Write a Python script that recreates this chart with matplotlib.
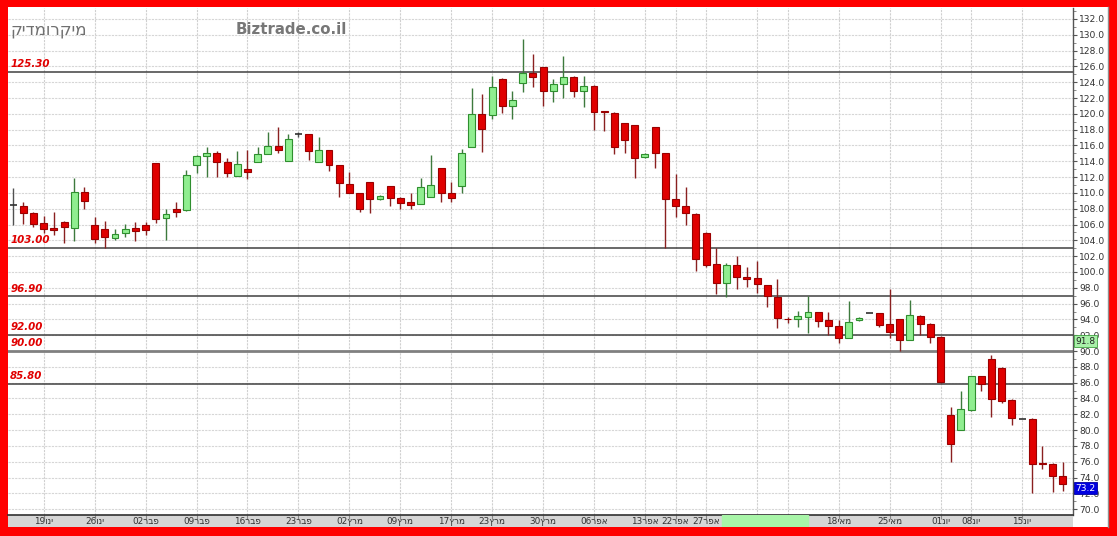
import matplotlib
matplotlib.use("Agg")
import matplotlib.pyplot as plt
from matplotlib.patches import Rectangle

W, H = 1117, 536

# candles (trading days, oldest first)
opens = [108.5, 108.3, 107.5, 106.2, 105.6, 106.3, 105.6, 110.1, 105.9, 105.4,
         104.3, 104.9, 105.6, 105.9, 113.8, 106.8, 108.0, 107.8, 113.5, 114.7,
         115.0, 113.9, 112.1, 113.0, 113.9, 114.9, 115.9, 114.0, 117.4, 117.4,
         113.9, 115.4, 113.5, 111.1, 110.0, 111.4, 109.2, 110.9, 109.4, 108.8,
         108.6, 109.5, 113.2, 110.0, 110.9, 115.8, 120.0, 119.9, 124.4, 121.0,
         123.9, 125.2, 125.9, 122.9, 123.8, 124.7, 122.9, 123.5, 120.3, 120.1,
         118.8, 118.6, 114.5, 118.3, 115.0, 109.2, 108.3, 107.3, 104.9, 101.0,
         98.6, 100.9, 99.4, 99.2, 98.4, 96.8, 94.1, 94.0, 94.3, 94.9,
         93.9, 93.2, 91.6, 93.9, 94.8, 94.8, 93.4, 94.0, 91.4, 94.4,
         93.4, 91.8, 81.9, 80.0, 82.5, 86.8, 89.0, 87.9, 83.8, 81.4,
         81.4, 75.8, 75.7, 74.2]
highs = [110.6, 108.9, 107.6, 107.1, 107.6, 106.5, 111.9, 110.7, 107.0, 106.4,
         105.4, 106.1, 106.3, 106.3, 113.8, 108.0, 108.9, 112.9, 114.8, 115.8,
         115.3, 114.4, 115.3, 115.4, 115.8, 117.7, 118.3, 117.4, 117.7, 117.5,
         117.1, 115.4, 113.5, 112.6, 110.0, 111.4, 109.7, 110.9, 109.5, 110.0,
         111.9, 114.8, 113.2, 111.4, 115.6, 123.3, 122.5, 124.8, 124.5, 122.9,
         129.5, 127.6, 125.9, 124.4, 127.3, 124.8, 124.8, 123.6, 120.3, 120.2,
         118.9, 118.6, 115.0, 118.4, 115.1, 112.4, 110.7, 107.4, 105.0, 103.0,
         101.1, 102.0, 100.6, 101.4, 98.4, 99.1, 94.3, 95.1, 97.0, 95.0,
         94.9, 93.9, 96.3, 94.3, 94.8, 94.8, 97.8, 94.1, 96.4, 94.5,
         93.5, 91.9, 82.9, 84.9, 86.9, 86.9, 89.5, 88.0, 83.9, 81.4,
         81.5, 78.0, 75.8, 76.0]
lows = [105.9, 106.1, 105.7, 104.9, 104.7, 103.7, 103.9, 108.0, 103.7, 103.0,
        104.0, 104.4, 103.9, 104.7, 106.2, 104.0, 107.0, 107.7, 112.5, 112.0,
        112.0, 112.0, 112.1, 111.8, 113.9, 114.9, 115.0, 114.0, 117.1, 114.2,
        113.9, 112.8, 109.5, 110.0, 107.6, 107.5, 109.1, 108.3, 108.0, 108.0,
        108.6, 109.5, 108.9, 108.9, 110.0, 115.8, 115.2, 119.4, 120.1, 119.4,
        122.8, 123.4, 121.0, 121.5, 122.0, 122.1, 120.9, 118.0, 117.8, 114.9,
        115.0, 111.9, 114.4, 113.2, 103.0, 107.0, 105.9, 100.1, 100.6, 97.2,
        96.8, 97.8, 98.1, 97.3, 95.6, 92.9, 93.5, 93.0, 92.3, 93.0,
        92.0, 91.0, 91.6, 93.8, 94.8, 93.0, 91.6, 90.0, 91.4, 92.0,
        91.0, 86.0, 76.0, 80.0, 82.4, 84.9, 81.7, 83.4, 80.6, 81.4,
        72.0, 75.1, 72.2, 72.3]
closes = [108.5, 107.5, 106.1, 105.4, 105.3, 105.7, 110.1, 109.0, 104.2, 104.4,
          104.8, 105.4, 105.2, 105.3, 106.7, 107.3, 107.6, 112.3, 114.7, 115.0,
          113.9, 112.5, 113.7, 112.6, 114.9, 115.9, 115.4, 116.8, 117.4, 115.3,
          115.4, 113.5, 111.3, 110.0, 108.0, 109.2, 109.6, 109.4, 108.7, 108.5,
          110.7, 111.0, 110.0, 109.4, 115.0, 120.0, 118.1, 123.4, 121.0, 121.8,
          125.2, 124.7, 122.9, 123.8, 124.7, 122.9, 123.5, 120.2, 120.2, 115.8,
          116.7, 114.4, 114.9, 115.0, 109.2, 108.3, 107.5, 101.6, 100.9, 98.6,
          100.9, 99.4, 99.1, 98.5, 97.0, 94.2, 94.0, 94.4, 94.9, 93.8,
          93.2, 91.6, 93.7, 94.2, 94.8, 93.3, 92.4, 91.4, 94.6, 93.4,
          91.8, 86.1, 78.2, 82.7, 86.8, 85.8, 83.9, 83.7, 81.5, 81.4,
          75.7, 75.7, 74.2, 73.2]

# date axis: candle index of each grid line and its label (day, Hebrew month)
date_idx = [3, 8, 13, 18, 23, 28, 33, 38, 43, 47, 52, 57, 62, 65, 68, 73, 76, 81, 86, 91, 94, 99]
date_day = ["19", "26", "02", "09", "16", "23", "02", "09", "17", "23", "30", "06", "13", "22", "27",
            "04", "11", "18", "25", "01", "08", "15"]
date_mon = ["ינו", "ינו", "פבר", "פבר", "פבר", "פבר", "מרץ", "מרץ", "מרץ", "מרץ", "מרץ",
            "אפר", "אפר", "אפר", "אפר", "מאי", "מאי", "מאי", "מאי", "יונ", "יונ", "יונ"]

# horizontal support / resistance levels
levels = [125.30, 103.00, 96.90, 92.00, 90.00, 85.80]

last_price = 73.2
marker_price = 91.8
title_he = "מיקרומדיק"

fig = plt.figure(figsize=(W / 100, H / 100), dpi=100)
fig.patch.set_facecolor("#ff0000")
fig.add_artist(Rectangle((8 / W, 9 / H), 1100 / W, 520 / H, transform=fig.transFigure,
                         facecolor="white", edgecolor="none", zorder=0))
fig.add_artist(plt.Line2D([1107.5 / W, 1107.5 / W], [9 / H, 529 / H], transform=fig.transFigure,
                          color="#909090", lw=1.0))

ax = fig.add_axes([8 / W, 21 / H, 1065 / W, 507 / H])
ax.set_facecolor("white")
ax.set_xlim(-0.5, 104.0)
ax.set_ylim(69.26, 133.39)

# grid
for i in date_idx:
    ax.axvline(i, color="#d0d0d0", lw=0.8, ls=(0, (2, 1)), zorder=1)
for v in range(70, 134, 2):
    ax.axhline(v, color="#d6d6d6", lw=0.8, ls=(0, (2, 1)), zorder=1)

# levels
for lv in levels:
    if lv == 90.00:
        ax.axhline(lv, color="#808080", lw=2.0, zorder=2)
    else:
        ax.axhline(lv, color="#404040", lw=1.1, zorder=2)
    ax.text(0.002, lv + 0.35, f"{lv:.2f}", transform=ax.get_yaxis_transform(),
            color="#e00000", fontsize=7.4, fontweight="bold", fontstyle="italic",
            ha="left", va="bottom", zorder=5)

# candles
bw = 0.68
for i in range(len(opens)):
    o, h, l, c = opens[i], highs[i], lows[i], closes[i]
    if c > o:
        face, edge, wick = "#90ee90", "#2f8f2f", "#3d7a3d"
    elif c < o:
        face, edge, wick = "#e00000", "#9a0000", "#8a2020"
    else:
        face, edge, wick = None, "#303030", "#505050"
    ax.vlines(i, l, h, color=wick, lw=1.0, zorder=3)
    if face is None:
        ax.hlines(o, i - bw / 2, i + bw / 2, color=edge, lw=1.2, zorder=4)
    else:
        ax.bar(i, abs(c - o), bottom=min(o, c), width=bw, color=face,
               edgecolor=edge, linewidth=0.8, zorder=4)

# right axis
ax.yaxis.tick_right()
ax.set_yticks(range(70, 134, 2))
ax.set_yticks(range(71, 134, 2), minor=True)
ax.set_yticklabels([f"{v:.1f}" for v in range(70, 134, 2)])
ax.tick_params(axis="y", which="major", length=3, color="#555555", labelsize=6.6,
               labelcolor="#333333", pad=1.5)
ax.tick_params(axis="y", which="minor", length=2, color="#777777")
ax.set_xticks([])
for s in ["top", "left", "bottom"]:
    ax.spines[s].set_visible(False)
ax.spines["right"].set_color("#555555")
ax.spines["right"].set_linewidth(1.0)

# value boxes on the price axis
ax.text(1.002, marker_price, f"{marker_price}", transform=ax.get_yaxis_transform(),
        ha="left", va="top", fontsize=6.6, color="#222222",
        bbox=dict(boxstyle="square,pad=0.15", facecolor="#a8f0a8", edgecolor="#40a040", lw=0.6),
        clip_on=False, zorder=6)
ax.text(1.002, last_price, f"{last_price}", transform=ax.get_yaxis_transform(),
        ha="left", va="top", fontsize=6.6, color="white",
        bbox=dict(boxstyle="square,pad=0.15", facecolor="#0000e0", edgecolor="#0000a0", lw=0.6),
        clip_on=False, zorder=6)

# date strip
sx = fig.add_axes([8 / W, 9 / H, 1065 / W, 12 / H])
sx.set_facecolor("#d6d6d6")
sx.set_xlim(ax.get_xlim())
sx.set_ylim(0, 1)
sx.set_yticks([])
sx.set_xticks(date_idx)
sx.set_xticklabels([])
sx.tick_params(axis="x", direction="in", length=3, color="#888888")
sx.xaxis.set_ticks_position("top")
for s in ["left", "right", "bottom"]:
    sx.spines[s].set_visible(False)
sx.spines["top"].set_color("#303030")
sx.spines["top"].set_linewidth(1.2)
for i, d, m in zip(date_idx, date_day, date_mon):
    sx.text(i, 0.45, d + m[::-1], ha="center", va="center", fontsize=6.4, color="#333333")
sx.axvspan(69.6, 78.0, color="#a8f5a8", zorder=5)

# header texts
fig.text(10 / W, 1 - 30 / H, title_he[::-1], ha="left", va="center",
         fontsize=12, color="#707070")
fig.text(236 / W, 1 - 30 / H, "Biztrade.co.il", ha="left", va="center",
         fontsize=10.8, fontweight="bold", color="#777777")

fig.savefig("out.png", dpi=100, facecolor=fig.get_facecolor())
